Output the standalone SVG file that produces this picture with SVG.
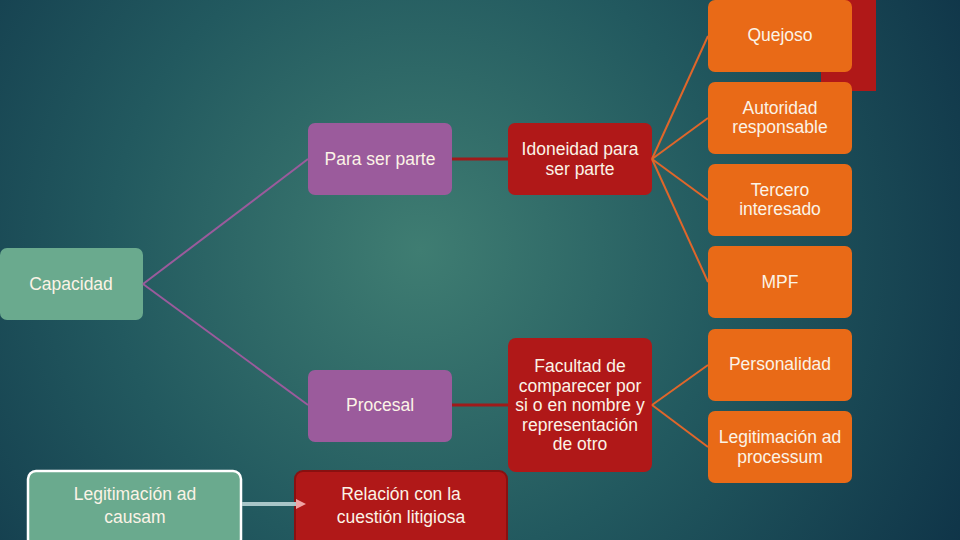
<svg xmlns="http://www.w3.org/2000/svg" width="960" height="540" viewBox="0 0 960 540">
<defs>
<radialGradient id="bg" cx="420" cy="250" r="620" gradientUnits="userSpaceOnUse">
<stop offset="0" stop-color="#3f7d72"/>
<stop offset="0.5" stop-color="#22595f"/>
<stop offset="1" stop-color="#0f3448"/>
</radialGradient>
<marker id="arr" markerWidth="10" markerHeight="10" refX="0" refY="5" orient="auto" markerUnits="userSpaceOnUse"><path d="M0,0 L10,5 L0,10 z" fill="#f0a4a4"/></marker>
</defs>
<style>
.t{font-family:"Liberation Sans",Arial,sans-serif;font-size:17.5px;fill:#fbf3e6;text-anchor:middle}
.or{fill:#e96a17}
.rd{fill:#b01818}
.pu{fill:#9b5b9c}
.gr{fill:#6aaa8e}
.lo{stroke:#e0662a;stroke-width:2;fill:none}
.lp{stroke:#9b5b9c;stroke-width:2;fill:none}
.lr{stroke:#a01a1a;stroke-width:3;fill:none}
</style>
<rect width="960" height="540" fill="url(#bg)"/>
<rect x="821" y="0" width="55" height="91" fill="#b01818"/>
<g id="quejoso"><rect class="or" x="708" y="0" width="144" height="72" rx="7"/><text class="t" x="780" y="41">Quejoso</text></g>
<g id="autoridad"><rect class="or" x="708" y="82" width="144" height="72" rx="7"/><text class="t" x="780" y="114">Autoridad</text><text class="t" x="780" y="133">responsable</text></g>
<g id="tercero"><rect class="or" x="708" y="164" width="144" height="72" rx="7"/><text class="t" x="780" y="196">Tercero</text><text class="t" x="780" y="215">interesado</text></g>
<g id="mpf"><rect class="or" x="708" y="246" width="144" height="72" rx="7"/><text class="t" x="780" y="288">MPF</text></g>
<g id="personalidad"><rect class="or" x="708" y="329" width="144" height="72" rx="7"/><text class="t" x="780" y="370">Personalidad</text></g>
<g id="processum"><rect class="or" x="708" y="411" width="144" height="72" rx="7"/><text class="t" x="780" y="443">Legitimación ad</text><text class="t" x="780" y="463">processum</text></g>
<g id="capacidad"><rect class="gr" x="0" y="248" width="143" height="72" rx="7"/><text class="t" x="71" y="290">Capacidad</text></g>
<g id="paraserparte"><rect class="pu" x="308" y="123" width="144" height="72" rx="7"/><text class="t" x="380" y="165">Para ser parte</text></g>
<g id="procesal"><rect class="pu" x="308" y="370" width="144" height="72" rx="7"/><text class="t" x="380" y="411">Procesal</text></g>
<g id="idoneidad"><rect class="rd" x="508" y="123" width="144" height="72" rx="7"/><text class="t" x="580" y="155">Idoneidad para</text><text class="t" x="580" y="175">ser parte</text></g>
<g id="facultad"><rect class="rd" x="508" y="338" width="144" height="134" rx="8"/><text class="t" x="580" y="372">Facultad de</text><text class="t" x="580" y="392">comparecer por</text><text class="t" x="580" y="411">si o en nombre y</text><text class="t" x="580" y="431">representación</text><text class="t" x="580" y="450">de otro</text></g>
<g id="causam"><rect x="28" y="471" width="213" height="76" rx="8" fill="#6aaa8e" stroke="#ffffff" stroke-width="2.5"/><text class="t" x="135" y="500">Legitimación ad</text><text class="t" x="135" y="523">causam</text></g>
<g id="relacion"><rect x="295" y="471" width="212" height="76" rx="8" fill="#b01818" stroke="#8a1010" stroke-width="2"/><text class="t" x="401" y="500">Relación con la</text><text class="t" x="401" y="523">cuestión litigiosa</text></g>
<g id="connectors">
<path class="lp" d="M143,284 L308,159"/>
<path class="lp" d="M143,284 L308,405"/>
<path class="lr" d="M452,159 L508,159"/>
<path class="lr" d="M452,405 L508,405"/>
<path class="lo" d="M652,159 L708,36"/>
<path class="lo" d="M652,159 L708,118"/>
<path class="lo" d="M652,159 L708,200"/>
<path class="lo" d="M652,159 L708,282"/>
<path class="lo" d="M652,405 L708,365"/>
<path class="lo" d="M652,405 L708,447"/>
<path d="M242,504 L296,504" stroke="#a9c6c8" stroke-width="4" marker-end="url(#arr)"/>
</g>
</svg>
